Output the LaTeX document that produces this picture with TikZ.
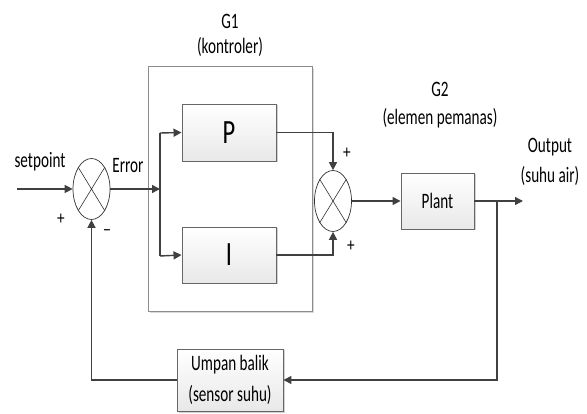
\documentclass[tikz,border=0pt]{standalone}
\usepackage{fontspec}
\setmainfont{Carlito}
\usetikzlibrary{shapes.geometric,arrows.meta,shadows}
\begin{document}
\begin{tikzpicture}[x=1pt,y=-1pt,
  line/.style={draw=black!75, line width=1.4pt},
  arr/.style={line, -{Triangle[length=8pt,width=8pt]}},
  lbl/.style={font=\fontsize{22}{28}\selectfont, xscale=0.69, inner sep=0pt, align=center, text=black},
  sgn/.style={font=\fontsize{19}{20}\selectfont, xscale=0.8, inner sep=0pt, text=black},
  blk/.style={draw=black!60, line width=0.9pt, top color=white, bottom color=black!9, inner sep=0pt,
     drop shadow={shadow xshift=1.5pt, shadow yshift=-1.5pt, fill=black!30, opacity=0.6}},
  sumj/.style={ellipse, draw=black!80, line width=0.7pt, fill=white, minimum width=37pt, minimum height=61pt, inner sep=0pt},
  big/.style={font=\fontsize{34}{34}\selectfont, xscale=0.72, text=black}
]
\useasboundingbox (0,0) rectangle (587,414);
% controller frame
\node[draw=black!45, line width=1pt, fill=white, minimum width=164pt, minimum height=245pt, inner sep=0pt,
  drop shadow={shadow xshift=1.5pt, shadow yshift=-1.5pt, fill=black!25, opacity=0.6}] (G1box) at (230,189.5) {};
% blocks
\node[blk, minimum width=94pt, minimum height=57pt] (P) at (229,132.5) {};
\node[big] at (P) {P};
\node[blk, minimum width=94pt, minimum height=56pt] (I) at (229,255) {};
\node[big] at (I) {I};
\node[blk, minimum width=73pt, minimum height=56pt] (Plant) at (437.5,201) {};
\node[lbl] at (Plant) {Plant};
\node[blk, minimum width=106pt, minimum height=62pt] (FB) at (230,380) {};
\node[lbl, font=\fontsize{22}{31}\selectfont] at (FB) {Umpan balik\\(sensor suhu)};
% summing junctions
\node[sumj] (s1) at (91.5,189) {};
\draw[black!80, line width=0.6pt] (s1.north west) -- (s1.south east) (s1.north east) -- (s1.south west);
\node[sumj] (s2) at (333,201) {};
\draw[black!80, line width=0.6pt] (s2.north west) -- (s2.south east) (s2.north east) -- (s2.south west);
% coordinates
\coordinate (sp) at (17,189);
\coordinate (j1) at (160,189);
\coordinate (jP) at (160,133);
\coordinate (jI) at (160,256);
\coordinate (out) at (523,201);
\coordinate (fb1) at (497,201);
% connectors
\draw[arr] (sp) -- (s1.west);
\draw[arr] (s1.east) -- (j1);
\draw[line] (jP) -- (jI);
\draw[arr] (jP) -- (P.west);
\draw[arr] (jI) -- (I.west);
\draw[arr] (P.east) -| (s2.north);
\draw[arr] (I.east) -| (s2.south);
\draw[arr] (s2.east) -- (Plant.west);
\draw[arr] (Plant.east) -- (out);
\draw[arr] (fb1) |- (FB.east);
\draw[arr] (FB.west) -| (s1.south);
% labels
\node[lbl] (tG1) at (230,21) {G1};
\node[lbl] (tK) at (230,47) {(kontroler)};
\node[lbl] (tG2) at (440,89) {G2};
\node[lbl] (tE) at (440,118) {(elemen pemanas)};
\node[lbl] (tO) at (550,147) {Output};
\node[lbl] (tS) at (550,176) {(suhu air)};
\node[lbl] (tsp) at (40,162) {setpoint};
\node[lbl] (terr) at (128,166) {Error};
\node[sgn] (p1) at (61,219) {+};
\node[sgn, xscale=1.1] (m1) at (107,233) {\textendash};
\node[sgn] (p2) at (347,153) {+};
\node[sgn] (p3) at (351,246) {+};
\end{tikzpicture}
\end{document}
